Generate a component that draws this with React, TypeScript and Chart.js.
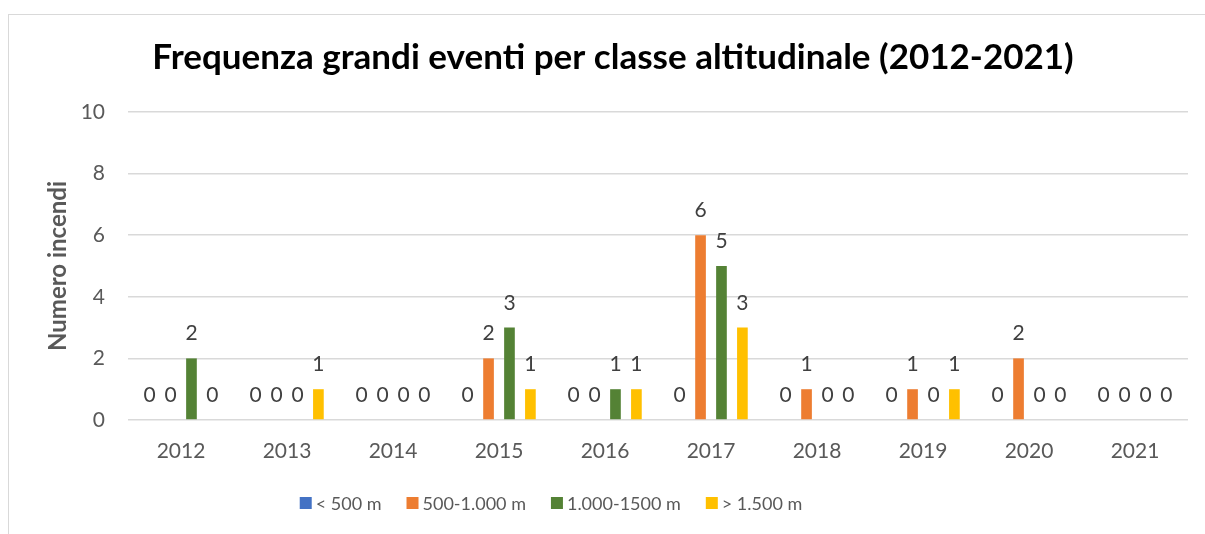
import React, { useEffect, useRef } from "react";
import { Chart, registerables } from "chart.js";

Chart.register(...registerables);

const categories = ["2012", "2013", "2014", "2015", "2016", "2017", "2018", "2019", "2020", "2021"];
const seriesNames = ["< 500 m", "500-1.000 m", "1.000-1500 m", "> 1.500 m"];
const below500 = [0, 0, 0, 0, 0, 0, 0, 0, 0, 0];
const from500to1000 = [0, 0, 0, 2, 0, 6, 1, 1, 2, 0];
const from1000to1500 = [2, 0, 0, 3, 1, 5, 0, 0, 0, 0];
const above1500 = [0, 1, 0, 1, 1, 3, 0, 1, 0, 0];
const seriesColors = ["#4472C4", "#ED7D31", "#548235", "#FFC000"];
const yTicks = [0, 2, 4, 6, 8, 10];
const titleText = "Frequenza grandi eventi per classe altitudinale (2012-2021)";
const yTitle = "Numero incendi";

const FONT = "Lato, 'Liberation Sans', sans-serif";

const dataLabels = {
  id: "dataLabels",
  afterDatasetsDraw(chart: any) {
    const ctx = chart.ctx;
    ctx.save();
    ctx.font = `21px ${FONT}`;
    ctx.fillStyle = "#404040";
    ctx.textAlign = "center";
    ctx.textBaseline = "alphabetic";
    chart.data.datasets.forEach((ds: any, i: number) => {
      const meta = chart.getDatasetMeta(i);
      meta.data.forEach((el: any, j: number) => {
        ctx.fillText(String(ds.data[j]), el.x, el.y - 18);
      });
    });
    ctx.restore();
  },
};

const customTitleLegend = {
  id: "customTitleLegend",
  afterDraw(chart: any) {
    const ctx = chart.ctx;
    ctx.save();
    // title
    ctx.font = `bold 35px ${FONT}`;
    ctx.fillStyle = "#000000";
    ctx.textAlign = "center";
    ctx.textBaseline = "middle";
    ctx.fillText(titleText, 604, 43);
    // legend
    ctx.font = `18px ${FONT}`;
    const box = 12;
    const gapBoxText = 4;
    const gapItems = 25;
    const widths = chart.data.datasets.map((d: any) => ctx.measureText(d.label).width);
    const total =
      widths.reduce((a: number, b: number) => a + b, 0) +
      widths.length * (box + gapBoxText) +
      (widths.length - 1) * gapItems;
    let x = 542 - total / 2;
    const cy = 488;
    ctx.textAlign = "left";
    chart.data.datasets.forEach((d: any, i: number) => {
      ctx.fillStyle = d.backgroundColor;
      ctx.fillRect(x, cy - box / 2, box, box);
      ctx.fillStyle = "#595959";
      ctx.fillText(d.label, x + box + gapBoxText, cy + 1);
      x += box + gapBoxText + widths[i] + gapItems;
    });
    ctx.restore();
  },
};

export default function App() {
  const ref = useRef<HTMLCanvasElement>(null);
  useEffect(() => {
    if (!ref.current) return;
    const values = [below500, from500to1000, from1000to1500, above1500];
    const chart = new Chart(ref.current, {
      type: "bar",
      data: {
        labels: categories,
        datasets: values.map((v, i) => ({
          label: seriesNames[i],
          data: v,
          backgroundColor: seriesColors[i],
          borderWidth: 0,
          categoryPercentage: 0.79,
          barPercentage: 0.51,
        })),
      },
      options: {
        responsive: false,
        animation: false,
        devicePixelRatio: 1,
        layout: { padding: { top: 97, right: 17, bottom: 64, left: 0 } },
        plugins: {
          legend: { display: false },
          title: { display: false },
          tooltip: { enabled: false },
        },
        scales: {
          x: {
            grid: { display: false, drawTicks: false },
            border: { display: false },
            ticks: { color: "#595959", font: { family: FONT, size: 21 }, padding: 19 },
            afterFit: (s: any) => {
              s.height = 50;
            },
          },
          y: {
            min: 0,
            max: 10,
            afterBuildTicks: (s: any) => {
              s.ticks = yTicks.map((v) => ({ value: v }));
            },
            grid: { color: "#D9D9D9", lineWidth: 1.5, drawTicks: false },
            border: { display: false },
            ticks: { color: "#595959", font: { family: FONT, size: 21 }, padding: 23 },
            title: {
              display: true,
              text: yTitle,
              color: "#595959",
              font: { family: FONT, size: 24, weight: "bold" },
              padding: { top: 35, bottom: 0 },
            },
            afterFit: (s: any) => {
              s.width = 119;
            },
          },
        },
      },
      plugins: [dataLabels, customTitleLegend],
    });
    return () => chart.destroy();
  }, []);
  return (
    <div
      style={{
        position: "absolute",
        left: 8,
        top: 14,
        width: 1197,
        height: 520,
        boxSizing: "border-box",
        borderTop: "1px solid #D9D9D9",
        borderLeft: "1px solid #D9D9D9",
        background: "#fff",
      }}
    >
      <canvas ref={ref} width={1196} height={519} style={{ display: "block" }} />
    </div>
  );
}
